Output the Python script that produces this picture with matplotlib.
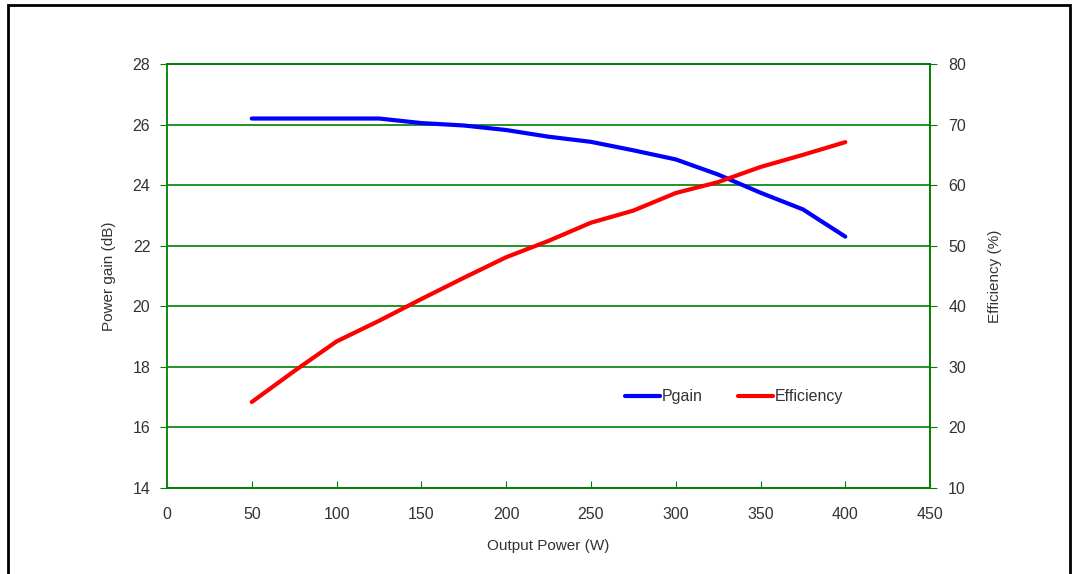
import numpy as np
import matplotlib.pyplot as plt
from matplotlib.patches import Rectangle

plt.rcParams['font.family'] = ['Liberation Sans', 'DejaVu Sans']

# Datos
pout = [50, 75, 100, 125, 150, 175, 200, 225, 250, 275, 300, 325, 350, 375, 400]
pgain = [26.2, 26.2, 26.2, 26.2, 26.05, 25.97, 25.82, 25.6, 25.43, 25.15, 24.85, 24.35, 23.75, 23.2, 22.3]
eff = [24.2, 29.3, 34.2, 37.6, 41.2, 44.7, 48.1, 50.8, 53.8, 55.8, 58.7, 60.5, 63.0, 65.0, 67.1]

green = '#008000'
txt = '#333333'

fig = plt.figure(figsize=(10.74, 5.74), dpi=100)
ax = fig.add_axes([0.1555, 0.1498, 0.7105, 0.7387])
ax2 = ax.twinx()

l1, = ax.plot(pout, pgain, color='#0000ff', lw=3, solid_capstyle='round', label='Pgain')
l2, = ax2.plot(pout, eff, color='#ff0000', lw=3, solid_capstyle='round', label='Efficiency')

ax.set_xlim(0, 450)
ax.set_ylim(14, 28)
ax2.set_ylim(10, 80)
ax.set_xticks(np.arange(0, 451, 50))
ax.set_yticks(np.arange(14, 29, 2))
ax2.set_yticks(np.arange(10, 81, 10))

ax.grid(axis='y', color=green, lw=1.2)
ax.set_axisbelow(True)

for a in (ax, ax2):
    for s in a.spines.values():
        s.set_color(green)
        s.set_linewidth(1.2)
ax.spines['left'].set_color('#6cb86c')
ax.tick_params(axis='x', direction='in', length=5, color=green, labelsize=11.5, labelcolor=txt, pad=14)
ax.tick_params(axis='y', direction='out', length=5, color=green, labelsize=11.5, labelcolor=txt, pad=7)
ax2.tick_params(axis='y', direction='out', length=5, color=green, labelsize=11.5, labelcolor=txt, pad=8)

ax.set_xlabel('Output Power (W)', fontsize=11, color=txt, labelpad=12)
ax.set_ylabel('Power gain (dB)', fontsize=11, color=txt, labelpad=12)
ax2.set_ylabel('Efficiency (%)', fontsize=11, color=txt, labelpad=16)

ax.legend([l1, l2], ['Pgain', 'Efficiency'], loc='center', bbox_to_anchor=(0.743, 0.215),
          ncol=2, frameon=False, fontsize=11.5, handlelength=2.2, handletextpad=0.1,
          columnspacing=2.2, labelcolor=txt)

# Marco exterior
fig.patches.append(Rectangle((8 / 1074, -0.1), (1070 - 8) / 1074, 1.1 - 5 / 574, transform=fig.transFigure,
                             fill=False, edgecolor='black', lw=2))

fig.savefig('out.png', dpi=100)
